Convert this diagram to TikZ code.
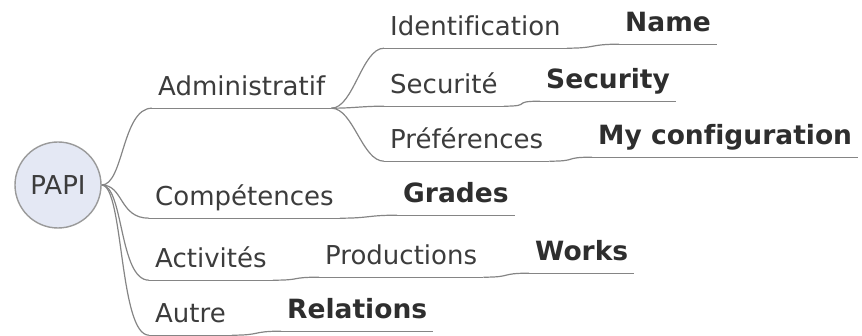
\documentclass[tikz,border=0pt]{standalone}
\usepackage{fontspec}
\setmainfont[Ligatures=NoCommon]{DejaVu Sans}
\definecolor{txt}{HTML}{3C3C3C}
\definecolor{txtb}{HTML}{2E2E2E}
\definecolor{linec}{HTML}{858585}
\definecolor{rootfill}{HTML}{E4E8F4}
\definecolor{rootline}{HTML}{9A9A9A}
\begin{document}
\begin{tikzpicture}[x=1pt,y=-1pt,
  lbl/.style={font=\fontsize{26}{30}\selectfont, text=txt, anchor=base west,
    inner xsep=6pt, inner ysep=0pt, text height=19pt, text depth=12pt},
  bld/.style={lbl, font=\fontsize{26.5}{30}\selectfont\bfseries, text=txtb},
  link/.style={draw=linec, line width=1.2pt},
  rootnode/.style={circle, draw=rootline, line width=1.4pt, fill=rootfill,
    minimum size=86pt, inner sep=0pt, text=txt, font=\fontsize{26}{30}\selectfont}
]
\useasboundingbox (0,0) rectangle (862,336);
\node[rootnode] (papi) at (58,185) {PAPI};
% first level
\node[lbl] (admin)  at (152,96)  {Administratif};
\node[lbl] (compet) at (149,206) {Compétences};
\node[lbl] (activ)  at (149,268) {Activités};
\node[lbl] (autre)  at (149,323) {Autre};
% second level
\node[lbl] (ident)  at (384,36)  {Identification};
\node[lbl] (secur)  at (384,94)  {Securité};
\node[lbl] (pref)   at (384,149) {Préférences};
\node[bld] (grades) at (397,203) {Grades};
\node[lbl] (prod)   at (319,265) {Productions};
\node[bld] (rel)    at (281,319) {Relations};
% third level
\node[bld] (name)   at (619,32)  {Name};
\node[bld] (secu)   at (540,89)  {Security};
\node[bld] (conf)   at (592,145) {My configuration};
\node[bld] (works)  at (529,261) {Works};
% underlines
\foreach \n in {admin,compet,activ,autre,ident,secur,pref,grades,prod,rel,name,secu,conf,works}
  \draw[link] (\n.south west) -- (\n.south east);
% root edges
\foreach \n in {admin,compet,activ,autre}
  \draw[link] (papi.east) .. controls +(22,0) and +(-30,0) .. (\n.south west);
% admin fan
\foreach \n in {ident,secur,pref}
  \draw[link] (admin.south east) .. controls +(22,0) and +(-22,0) .. (\n.south west);
% steps
\draw[link] (ident.south east) .. controls +(30,0) and +(-30,0) .. (name.south west);
\draw[link] (secur.south east) .. controls +(30,0) and +(-30,0) .. (secu.south west);
\draw[link] (pref.south east) .. controls +(30,0) and +(-30,0) .. (conf.south west);
\draw[link] (compet.south east) .. controls +(30,0) and +(-30,0) .. (grades.south west);
\draw[link] (activ.south east) .. controls +(30,0) and +(-30,0) .. (prod.south west);
\draw[link] (prod.south east) .. controls +(30,0) and +(-30,0) .. (works.south west);
\draw[link] (autre.south east) .. controls +(30,0) and +(-30,0) .. (rel.south west);
\end{tikzpicture}
\end{document}
